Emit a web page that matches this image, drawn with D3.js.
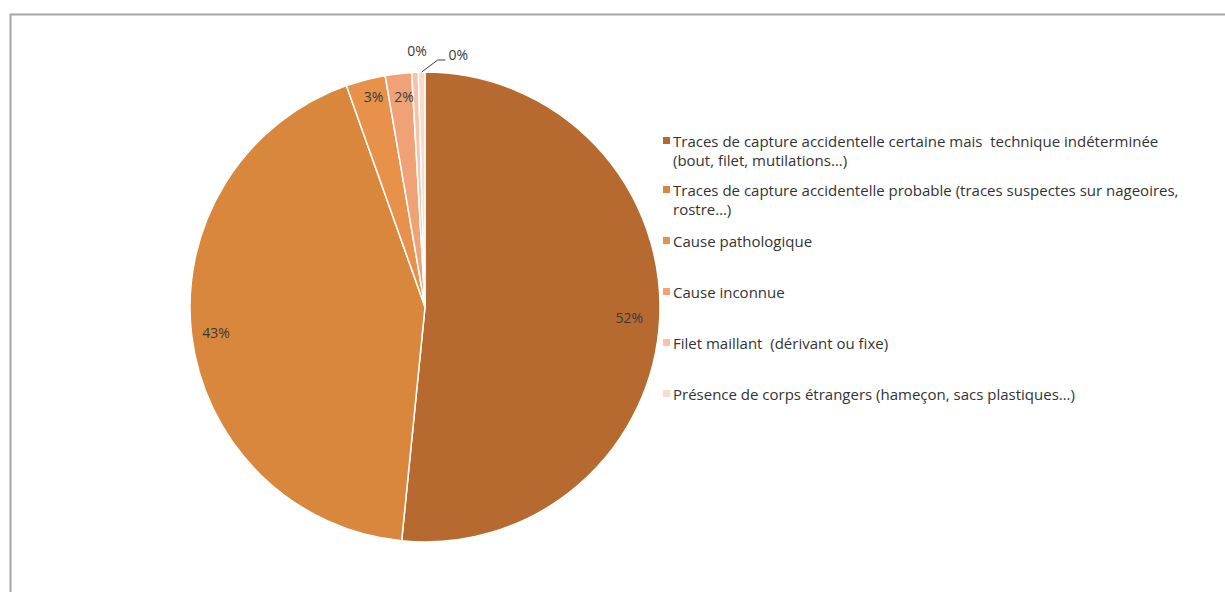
<!DOCTYPE html>
<html>
<head>
<meta charset="utf-8">
<script src="https://cdn.jsdelivr.net/npm/d3@7/dist/d3.min.js"></script>
<style>
  html, body { margin: 0; padding: 0; background: #fff; }
  svg { display: block; font-family: "Open Sans", Lato, sans-serif; }
  .legend text { white-space: pre; }
</style>
</head>
<body>
<svg id="chart" width="1225" height="592"></svg>
<script>
// Causes of stranding: number of cases per category
const categories = [
  "Traces de capture accidentelle certaine mais  technique indéterminée|(bout, filet, mutilations…)",
  "Traces de capture accidentelle probable (traces suspectes sur nageoires,|rostre…)",
  "Cause pathologique",
  "Cause inconnue",
  "Filet maillant  (dérivant ou fixe)",
  "Présence de corps étrangers (hameçon, sacs plastiques…)"
];
const counts = [114, 95, 6, 4, 1, 1];
const colors = ["#B66A2F", "#D9873C", "#E8914B", "#F0A276", "#F6C3A8", "#F9DACB"];

const svg = d3.select("#chart");
const W = 1225, H = 592;

// chart frame
svg.append("rect")
  .attr("x", 10.5).attr("y", 14.5)
  .attr("width", W + 20).attr("height", H + 20)
  .attr("fill", "#fff").attr("stroke", "#A6A6A6").attr("stroke-width", 2);

const cx = 425, cy = 307, R = 235;
const total = d3.sum(counts);
const fmt = v => Math.round(v / total * 100) + "%";

const pie = d3.pie().sort(null).value(d => d)(counts);
const arc = d3.arc().innerRadius(0).outerRadius(R);

const g = svg.append("g").attr("transform", `translate(${cx},${cy})`);
g.selectAll("path.slice").data(pie).enter().append("path")
  .attr("class", "slice")
  .attr("d", arc)
  .attr("fill", (d, i) => colors[i])
  .attr("stroke", "#fff").attr("stroke-width", 1.5);

// percentage labels
const labelArc = d3.arc().innerRadius(R * 0.9).outerRadius(R * 0.9);
const labelPos = [
  { dx: -7, dy: 0 }, { dx: 1, dy: 0 }, { dx: 2, dy: -6 }, { dx: 3, dy: 0 },
  { r: R * 1.1, dx: 3, dy: 2 },
  { r: R * 1.1, dx: 37, dy: 6, leader: true }
];
pie.forEach((d, i) => {
  let [x, y] = labelArc.centroid(d);
  const lp = labelPos[i];
  if (lp.r) {
    const a = (d.startAngle + d.endAngle) / 2;
    x = Math.sin(a) * lp.r;
    y = -Math.cos(a) * lp.r;
    if (lp.leader) {
      const px = Math.sin(a) * R, py = -Math.cos(a) * R;
      g.append("path")
        .attr("d", `M${px},${py}L${px + 16},${py - 12}L${x + lp.dx - 13},${py - 12}`)
        .attr("fill", "none").attr("stroke", "#404040").attr("stroke-width", 1);
    }
  }
  g.append("text")
    .attr("x", x + lp.dx).attr("y", y + lp.dy)
    .attr("text-anchor", "middle").attr("dominant-baseline", "central")
    .attr("font-size", 14).attr("fill", "#3a3a3a")
    .text(fmt(d.value));
});

// legend
const legendY = [141, 190, 241, 292, 343, 394];
const lg = svg.append("g").attr("class", "legend");
categories.forEach((c, i) => {
  lg.append("rect")
    .attr("x", 663).attr("y", legendY[i] - 4)
    .attr("width", 7).attr("height", 7)
    .attr("fill", colors[i]);
  c.split("|").forEach((line, j) => {
    lg.append("text")
      .attr("x", 673).attr("y", legendY[i] + j * 19)
      .attr("dominant-baseline", "central")
      .attr("font-size", 15).attr("fill", "#333")
      .text(line);
  });
});
</script>
</body>
</html>
